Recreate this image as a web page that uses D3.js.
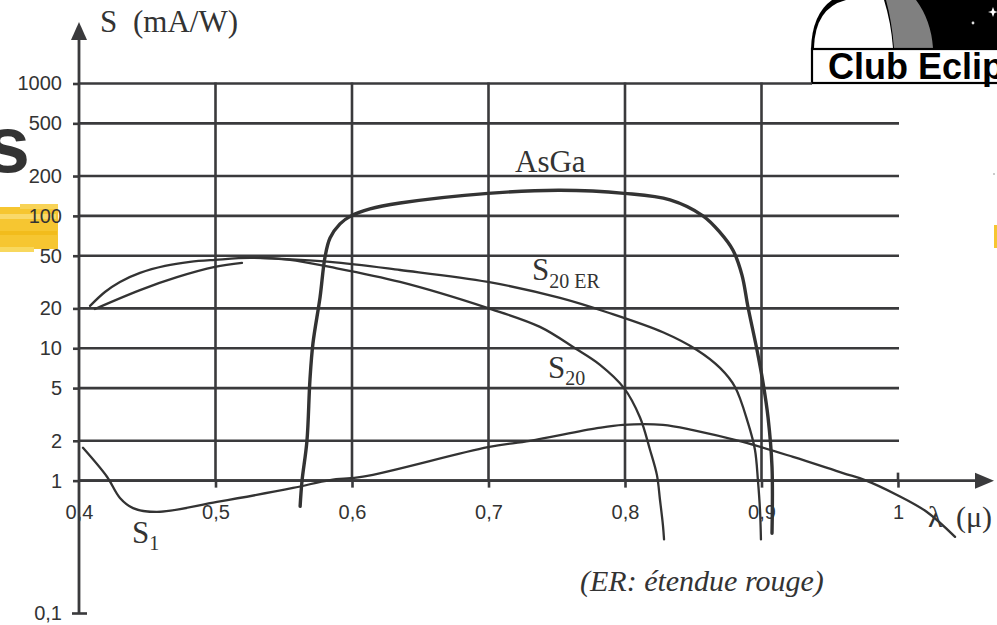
<!DOCTYPE html>
<html>
<head>
<meta charset="utf-8">
<script src="https://cdn.jsdelivr.net/npm/d3@7"></script>
<style>
  body { margin: 0; background: #fff; }
  svg { display: block; }
</style>
</head>
<body>
<div id="vis-container"></div>
<script>
// S (mA/W) ticks on the log axis
const yTicks = [1000, 500, 200, 100, 50, 20, 10, 5, 2, 1, 0.1];
const yTickLabels = ["1000", "500", "200", "100", "50", "20", "10", "5", "2", "1", "0,1"];
// wavelength ticks (micron)
const xTicks = [0.4, 0.5, 0.6, 0.7, 0.8, 0.9, 1.0];
const xTickLabels = ["0,4", "0,5", "0,6", "0,7", "0,8", "0,9", "1"];

// AsGa photocathode
const asgaLambda = [0.562, 0.5634, 0.567, 0.5692, 0.5714, 0.5766, 0.5802, 0.5839, 0.5912, 0.5993, 0.6132, 0.6352,
  0.6996, 0.7524, 0.7993, 0.833, 0.8571, 0.8696, 0.8791, 0.8857, 0.8901, 0.8967, 0.9011, 0.9048, 0.9077, 0.9077];
const asgaS = [0.64, 1.0, 2.0, 5.8, 10.9, 24.3, 48.7, 68, 87, 100, 113, 125,
  148, 156, 148, 132, 100, 75, 55, 35.7, 20.5, 9.7, 5.5, 3.0, 1.27, 0.40];

// S20
const s20Lambda = [0.4081, 0.419, 0.43, 0.4447, 0.463, 0.4813, 0.4996, 0.5253, 0.5546, 0.5839, 0.6352, 0.6996,
  0.7377, 0.7634, 0.7817, 0.7993, 0.811, 0.8183, 0.8234, 0.8256, 0.8278, 0.8286];
const s20S = [20.9, 26.6, 31.7, 37.1, 41.9, 44.9, 46.5, 48.1, 46.5, 41.1, 31.7, 20.1,
  14.5, 10.0, 7.5, 5.0, 3.0, 1.71, 1.10, 0.72, 0.46, 0.36];

// S20 ER (null = pen lifted)
const s20erLambda = [0.4117, 0.4447, 0.4718, 0.4996, 0.5194, 0.525, 0.5326, 0.5839, 0.6352, 0.6996, 0.7524, 0.7868,
  0.8278, 0.8527, 0.8696, 0.8806, 0.8901, 0.8952, 0.8974, 0.8989, 0.8996];
const s20erS = [19.8, 27.5, 34.4, 41.1, 44.1, null, 48.1, 44.9, 39.0, 31.7, 24.0, 18.7,
  13.2, 9.7, 7.1, 5.1, 2.73, 1.71, 1.0, 0.60, 0.36];

// S1
const s1Lambda = [0.4029, 0.4205, 0.43, 0.4396, 0.4571, 0.5011, 0.5568, 0.5839, 0.6081, 0.6996, 0.7304, 0.7795,
  0.7985, 0.8278, 0.8498, 0.8864, 0.9231, 0.9597, 0.9758, 0.9993, 1.0212, 1.0418];
const s1S = [1.77, 1.07, 0.74, 0.62, 0.58, 0.69, 0.88, 1.01, 1.07, 1.79, 2.0, 2.49,
  2.64, 2.64, 2.41, 1.96, 1.51, 1.14, 1.01, 0.78, 0.58, 0.376];

const W = 997, H = 625;
const ink = '#3a3a3c';
const serif = '"Liberation Serif", "Times New Roman", serif';
const sans = '"Liberation Sans", Arial, sans-serif';

const svg = d3.select('#vis-container')
  .append('svg')
  .attr('width', W)
  .attr('height', H);

const x = d3.scaleLinear().domain([0.4, 1.0]).range([79, 898]);
const y = d3.scaleLog().domain([0.1, 1000]).range([613, 83.5]);

// slide background leftovers (highlighter + big letter)
const deco = svg.append('g');
deco.append('rect').attr('x', 0).attr('y', 207).attr('width', 58).attr('height', 42).attr('fill', '#f6c631');
deco.append('rect').attr('x', 20).attr('y', 204).attr('width', 38).attr('height', 5).attr('fill', '#f8d356');
deco.append('rect').attr('x', 0).attr('y', 214).attr('width', 56).attr('height', 5).attr('fill', '#f9d96a');
deco.append('rect').attr('x', 0).attr('y', 231).attr('width', 57).attr('height', 4).attr('fill', '#f2bc1c');
deco.append('rect').attr('x', 0).attr('y', 247).attr('width', 34).attr('height', 5).attr('fill', '#f8d85e');
deco.append('rect').attr('x', 994).attr('y', 225).attr('width', 3).attr('height', 23).attr('fill', '#f6c631');
deco.append('text')
  .attr('x', 30).attr('y', 172)
  .attr('text-anchor', 'end')
  .attr('font-family', sans).attr('font-weight', 'bold').attr('font-size', 80)
  .attr('fill', '#333')
  .text('s');

// Club Eclipse logo
const logo = svg.append('g');
logo.append('path').attr('d', 'M832,0 Q812,14 811,49 L997,49 L997,0 Z').attr('fill', '#000');
logo.append('path').attr('d', 'M814,48 Q815,8 846,0 L884,0 Q891,22 893,48 Z').attr('fill', '#fff');
logo.append('path').attr('d', 'M886,0 L916,0 Q931,20 933,48 L894,48 Q892,22 886,0 Z').attr('fill', '#808080');
logo.append('path').attr('d', 'M993,7 L994.5,11 L998,12 L994.5,13 L993,17 L991.5,13 L988,12 L991.5,11 Z').attr('fill', '#fff');
logo.append('circle').attr('cx', 973).attr('cy', 23).attr('r', 1.4).attr('fill', '#ddd');
logo.append('rect').attr('x', 812).attr('y', 49).attr('width', 190).attr('height', 34)
  .attr('fill', '#fff').attr('stroke', '#000').attr('stroke-width', 2.2);
logo.append('text')
  .attr('x', 828).attr('y', 79)
  .attr('font-family', sans).attr('font-weight', 'bold').attr('font-size', 36)
  .attr('fill', '#000')
  .text('Club Eclipse');
svg.append('circle').attr('cx', 994).attr('cy', 174).attr('r', 0.8).attr('fill', '#888');

// grid
const grid = svg.append('g').attr('stroke', ink).attr('stroke-width', 2.6);
grid.selectAll('line.h')
  .data(yTicks.filter(d => d >= 1))
  .enter().append('line')
  .attr('class', 'h')
  .attr('x1', x(0.4))
  .attr('x2', d => d === 1000 ? 812 : x(1.0) + 1)
  .attr('y1', d => y(d)).attr('y2', d => y(d));
grid.selectAll('line.v')
  .data(xTicks.filter(d => d > 0.4 && d < 1.0))
  .enter().append('line')
  .attr('class', 'v')
  .attr('x1', d => x(d)).attr('x2', d => x(d))
  .attr('y1', y(1000) - 1).attr('y2', y(1));
grid.append('line')
  .attr('x1', x(1.0)).attr('x2', x(1.0))
  .attr('y1', y(1) - 8).attr('y2', y(1));

// y axis
const yAxis = svg.append('g')
  .attr('transform', `translate(${x(0.4)},0)`)
  .call(d3.axisLeft(y)
    .tickValues(yTicks)
    .tickFormat((d, i) => yTickLabels[i])
    .tickSize(6)
    .tickPadding(11));
yAxis.select('.domain').remove();
yAxis.selectAll('.tick line').attr('stroke', ink).attr('stroke-width', 2.6);
yAxis.selectAll('.tick text')
  .attr('font-family', sans).attr('font-size', 20).attr('fill', '#333');
yAxis.selectAll('.tick').filter(d => d === 0.1).select('line').attr('x2', 8).attr('x1', -7);

// x axis
const xAxis = svg.append('g')
  .attr('transform', `translate(0,${y(1)})`)
  .call(d3.axisBottom(x)
    .tickValues(xTicks)
    .tickFormat((d, i) => xTickLabels[i])
    .tickSize(7)
    .tickPadding(17));
xAxis.select('.domain').remove();
xAxis.selectAll('.tick line').attr('stroke', ink).attr('stroke-width', 2.6);
xAxis.selectAll('.tick').filter(d => d === 0.4).select('line').remove();
xAxis.selectAll('.tick text')
  .attr('font-family', sans).attr('font-size', 20).attr('fill', '#333');

// axis lines with arrows
const axes = svg.append('g').attr('stroke', ink).attr('fill', ink);
axes.append('line')
  .attr('x1', x(0.4)).attr('x2', x(0.4))
  .attr('y1', y(0.1)).attr('y2', 36)
  .attr('stroke-width', 2.8);
axes.append('path')
  .attr('d', `M${x(0.4)},22 L${x(0.4) - 8},40 L${x(0.4) + 8},40 Z`)
  .attr('stroke', 'none');
axes.append('line')
  .attr('x1', x(0.4)).attr('x2', 980)
  .attr('y1', y(1)).attr('y2', y(1))
  .attr('stroke-width', 2.8);
axes.append('path')
  .attr('d', `M994,${y(1)} L975,${y(1) - 8} L975,${y(1) + 8} Z`)
  .attr('stroke', 'none');

// curves
const line = d3.line()
  .defined(d => d[1] != null)
  .x(d => x(d[0]))
  .y(d => y(d[1]))
  .curve(d3.curveCatmullRom.alpha(0.5));

const series = [
  { name: 'AsGa', lambda: asgaLambda, s: asgaS, width: 3.4 },
  { name: 'S20', lambda: s20Lambda, s: s20S, width: 2.3 },
  { name: 'S20ER', lambda: s20erLambda, s: s20erS, width: 2.3 },
  { name: 'S1', lambda: s1Lambda, s: s1S, width: 2.3 }
];

svg.append('g')
  .selectAll('path')
  .data(series)
  .enter()
  .append('path')
  .attr('d', d => line(d.lambda.map((l, i) => [l, d.s[i]])))
  .attr('fill', 'none')
  .attr('stroke', '#333')
  .attr('stroke-width', d => d.width)
  .attr('stroke-linecap', 'round')
  .attr('stroke-linejoin', 'round');

// labels
const lab = svg.append('g').attr('font-family', serif).attr('fill', '#333');
lab.append('text').attr('x', 100).attr('y', 32).attr('font-size', 31).text('S');
lab.append('text').attr('x', 133).attr('y', 32).attr('font-size', 31).text('(mA/W)');
lab.append('text').attr('x', 515).attr('y', 172).attr('font-size', 31).text('AsGa');

const s20er = lab.append('text').attr('x', 532).attr('y', 280).attr('font-size', 31);
s20er.append('tspan').text('S');
s20er.append('tspan').attr('font-size', 20).attr('dy', 8).text('20 ER');

const s20 = lab.append('text').attr('x', 548).attr('y', 378).attr('font-size', 31);
s20.append('tspan').text('S');
s20.append('tspan').attr('font-size', 20).attr('dy', 7).text('20');

const s1 = lab.append('text').attr('x', 132).attr('y', 543).attr('font-size', 31);
s1.append('tspan').text('S');
s1.append('tspan').attr('font-size', 20).attr('dy', 7).text('1');

lab.append('text').attr('x', 928).attr('y', 527).attr('font-size', 30).text('λ');
lab.append('text').attr('x', 956).attr('y', 527).attr('font-size', 30).text('(μ)');

lab.append('text')
  .attr('x', 580).attr('y', 591)
  .attr('font-size', 30).attr('font-style', 'italic')
  .text('(ER: étendue rouge)');
</script>
</body>
</html>
